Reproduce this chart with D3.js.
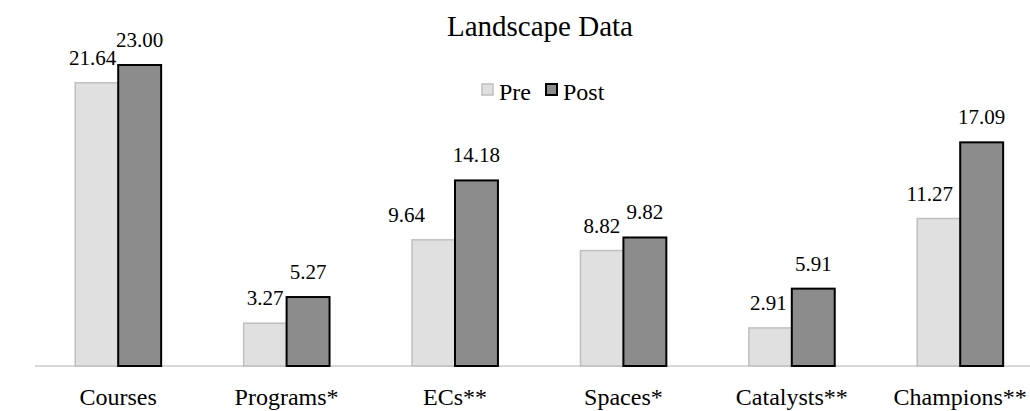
<!DOCTYPE html>
<html><head><meta charset="utf-8">
<script src="https://cdn.jsdelivr.net/npm/d3@7"></script>
<style>html,body{margin:0;padding:0;background:#fff;}svg{display:block;}svg text{font-family:"Liberation Serif","Times New Roman",Times,serif !important;}</style>
</head><body>
<svg id="chart" width="1030" height="411"></svg>
<script>
const categories = ["Courses","Programs*","ECs**","Spaces*","Catalysts**","Champions**"];
const seriesNames = ["Pre","Post"];
const preValues = [21.64, 3.27, 9.64, 8.82, 2.91, 11.27];
const postValues = [23.00, 5.27, 14.18, 9.82, 5.91, 17.09];
const title = "Landscape Data";

// layout tweak (label nudges as in the original, not data)
const preLabelNudge = [-4, 0, -27, 0, -2, -9];

const FONT = "Liberation Serif";
const svg = d3.select("#chart");
const baseY = 366;
const x = d3.scaleBand().domain(categories).range([34, 1044.4]).paddingInner(0.49).paddingOuter(0.245);
const xs = d3.scaleBand().domain(seriesNames).range([0, x.bandwidth()]);
const y = d3.scaleLinear().domain([0, 23]).range([baseY, 65]);

const fills = {Pre:"#e0e0e0", Post:"#8c8c8c"};
const strokes = {Pre:"#bfbfbf", Post:"#000000"};
const widths = {Pre:1.5, Post:2};

const data = categories.map((c,i)=>({cat:c, vals:[
  {s:"Pre",v:preValues[i],dx:preLabelNudge[i]},
  {s:"Post",v:postValues[i],dx:0}]}));

// axis line
svg.append("line").attr("x1",35).attr("x2",1030).attr("y1",baseY).attr("y2",baseY)
  .attr("stroke","#d9d9d9").attr("stroke-width",2);

const g = svg.selectAll("g.grp").data(data).join("g").attr("class","grp")
  .attr("transform",d=>`translate(${x(d.cat)},0)`);
g.selectAll("rect").data(d=>d.vals).join("rect")
  .attr("x",d=>xs(d.s)).attr("width",xs.bandwidth())
  .attr("y",d=>y(d.v)).attr("height",d=>baseY-y(d.v))
  .attr("fill",d=>fills[d.s]).attr("stroke",d=>strokes[d.s]).attr("stroke-width",d=>widths[d.s]);
g.selectAll("text.val").data(d=>d.vals).join("text").attr("class","val")
  .attr("x",d=>xs(d.s)+xs.bandwidth()/2+d.dx).attr("y",d=>y(d.v)-18)
  .attr("text-anchor","middle").attr("font-family",FONT).attr("font-size",21).attr("fill","#000")
  .text(d=>d.v.toFixed(2));

// x axis labels
const xAxis = d3.axisBottom(x).tickSize(0).tickPadding(0);
const ax = svg.append("g").attr("transform",`translate(0,${baseY})`).call(xAxis)
  .attr("font-family",FONT).attr("font-size",24);
ax.select(".domain").remove();
ax.selectAll("text").attr("font-size",24).attr("font-family",FONT).attr("fill","#000")
  .attr("dy",null).attr("y",39);

// title
svg.append("text").attr("x",540).attr("y",36).attr("text-anchor","middle")
  .attr("font-family",FONT).attr("font-size",29).text(title);

// legend
const leg = svg.append("g");
const legX = [482, 546];
seriesNames.forEach((s,i)=>{
  leg.append("rect").attr("x",legX[i]).attr("y",84).attr("width",11).attr("height",11)
    .attr("fill",fills[s]).attr("stroke",strokes[s]).attr("stroke-width",widths[s]);
  leg.append("text").attr("x",legX[i]+17).attr("y",100).attr("font-family",FONT).attr("font-size",24).text(s);
});
</script>
</body></html>
